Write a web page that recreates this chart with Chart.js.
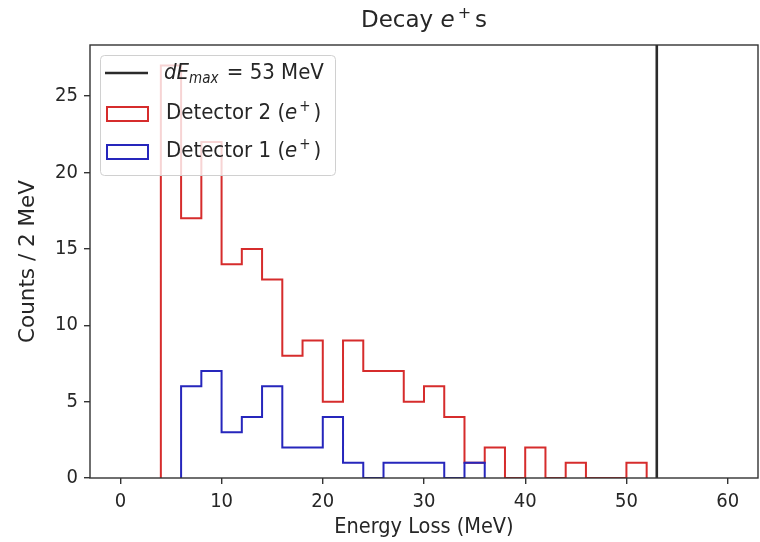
<!DOCTYPE html>
<html>
<head>
<meta charset="utf-8">
<script src="https://cdn.jsdelivr.net/npm/chart.js@4.4.1/dist/chart.umd.min.js"></script>
<style>
  html, body { margin: 0; padding: 0; background: #fff; }
  canvas { display: block; }
</style>
</head>
<body>
<canvas id="myChart" width="760" height="542"></canvas>
<script>
// histogram data, 2 MeV bins
const binWidth = 2
const det2Start = 4
const det2Counts = [27, 17, 22, 14, 15, 13, 8, 9, 5, 9, 7, 7, 5, 6, 4, 1, 2, 0, 2, 0, 1, 0, 0, 1]
const det1Start = 6
const det1Counts = [6, 7, 3, 4, 6, 2, 2, 4, 1, 0, 1, 1, 1, 0, 1]
const dEmax = 53
const xTicks = [0, 10, 20, 30, 40, 50, 60]
const yTicks = [0, 5, 10, 15, 20, 25]
const xMin = -3
const xMax = 63
const yMax = Math.max(...det2Counts) * 1.05

const FAM = "'DejaVu Sans Condensed', 'DejaVu Sans', sans-serif"
const WIDE = "'DejaVu Sans', sans-serif"
const red = 'rgb(214,44,44)'
const blue = 'rgb(38,38,188)'
const dark = '#262626'

// outline of a step histogram
function stepPoints(start, counts) {
    let pts = [{x: start, y: 0}]
    counts.forEach(function(c, i) {
        let x0 = start + i * binWidth
        pts.push({x: x0, y: c}, {x: x0 + binWidth, y: c})
    })
    pts.push({x: start + counts.length * binWidth, y: 0})
    return pts
}

// draw a run of text pieces (italic, sub/superscript)
function richText(ctx, pieces, x, y, align) {
    let w = 0
    pieces.forEach(function(p) {
        ctx.font = p.font
        p.w = ctx.measureText(p.t).width + (p.pre || 0) + (p.gap || 0)
        w += p.w
    })
    let cx = align === 'center' ? x - w / 2 : x
    pieces.forEach(function(p) {
        ctx.font = p.font
        ctx.fillText(p.t, cx + (p.pre || 0), y + (p.dy || 0))
        cx += p.w
    })
}

const decor = {
    id: 'decor',
    afterDraw(chart) {
        const ctx = chart.ctx
        const a = chart.chartArea
        ctx.save()
        // axes frame
        ctx.strokeStyle = '#333'
        ctx.lineWidth = 1.4
        ctx.strokeRect(a.left, a.top, a.right - a.left, a.bottom - a.top)

        // legend box
        ctx.beginPath()
        ctx.roundRect(100.5, 55.5, 235, 120, 4)
        ctx.fillStyle = 'rgba(255,255,255,0.8)'
        ctx.fill()
        ctx.strokeStyle = '#d0d0d0'
        ctx.lineWidth = 1
        ctx.stroke()

        ctx.strokeStyle = '#2b2b2b'
        ctx.lineWidth = 2.6
        ctx.beginPath()
        ctx.moveTo(105, 73)
        ctx.lineTo(148, 73)
        ctx.stroke()

        ctx.lineWidth = 2
        ctx.strokeStyle = red
        ctx.strokeRect(107, 107, 41, 14)
        ctx.strokeStyle = blue
        ctx.strokeRect(107, 145, 41, 14)

        ctx.fillStyle = dark
        ctx.textBaseline = 'alphabetic'
        const n = '22px ' + FAM
        const it = 'italic 22px ' + FAM
        const sm = '15px ' + FAM
        const smi = 'italic 15px ' + FAM
        richText(ctx, [
            {t: 'dE', font: it},
            {t: 'max', font: smi, dy: 4, gap: 2},
            {t: ' = ' + dEmax + ' MeV', font: n}
        ], 164, 79)
        richText(ctx, [
            {t: 'Detector 2 (', font: n},
            {t: 'e', font: it},
            {t: '+', font: sm, dy: -8, pre: 2, gap: 3},
            {t: ')', font: n}
        ], 166, 119)
        richText(ctx, [
            {t: 'Detector 1 (', font: n},
            {t: 'e', font: it},
            {t: '+', font: sm, dy: -8, pre: 2, gap: 3},
            {t: ')', font: n}
        ], 166, 157)

        // title
        richText(ctx, [
            {t: 'Decay ', font: '23px ' + WIDE},
            {t: 'e', font: 'italic 23px ' + WIDE},
            {t: '+', font: '16px ' + WIDE, dy: -9, pre: 3, gap: 4},
            {t: 's', font: '23px ' + WIDE}
        ], (a.left + a.right) / 2, 27, 'center')
        ctx.restore()
    }
}

const data = {
    datasets: [{
        label: 'Detector 2 (e+)',
        data: stepPoints(det2Start, det2Counts),
        borderColor: red,
        borderWidth: 2,
        order: 1
    }, {
        label: 'Detector 1 (e+)',
        data: stepPoints(det1Start, det1Counts),
        borderColor: blue,
        borderWidth: 2,
        order: 0
    }, {
        label: 'dEmax = 53 MeV',
        data: [{x: dEmax, y: 0}, {x: dEmax, y: yMax}],
        borderColor: '#2b2b2b',
        borderWidth: 2.6,
        order: 2
    }]
}

const config = {
    type: 'line',
    data: data,
    plugins: [decor],
    options: {
        responsive: false,
        animation: false,
        layout: { padding: { top: 45, right: 2, left: 0, bottom: 0 } },
        elements: {
            point: { radius: 0 },
            line: { tension: 0, fill: false }
        },
        plugins: {
            legend: { display: false },
            title: { display: false },
            tooltip: { enabled: false }
        },
        scales: {
            x: {
                type: 'linear',
                min: xMin,
                max: xMax,
                afterBuildTicks: function(s) { s.ticks = xTicks.map(v => ({value: v})) },
                afterFit: function(s) { s.height = 64 },
                grid: { drawOnChartArea: false, drawTicks: true, tickLength: 6, color: '#333', lineWidth: 1.4 },
                border: { display: false },
                ticks: { padding: 6, color: dark, font: { family: FAM, size: 20 }, maxRotation: 0, autoSkip: false },
                title: { display: true, text: 'Energy Loss (MeV)', color: dark, font: { family: FAM, size: 21.5 }, padding: { top: 0, bottom: 2 } }
            },
            y: {
                type: 'linear',
                min: 0,
                max: yMax,
                afterBuildTicks: function(s) { s.ticks = yTicks.map(v => ({value: v})) },
                afterFit: function(s) { s.width = 90 },
                grid: { drawOnChartArea: false, drawTicks: true, tickLength: 6, color: '#333', lineWidth: 1.4 },
                border: { display: false },
                ticks: { padding: 6, color: dark, font: { family: FAM, size: 20 } },
                title: { display: true, text: 'Counts / 2 MeV', color: dark, font: { family: WIDE, size: 21.5 }, padding: { top: 16, bottom: 0 } }
            }
        }
    }
}

const ctx = document.getElementById('myChart')
const myChart = new Chart(ctx, config)
</script>
</body>
</html>
